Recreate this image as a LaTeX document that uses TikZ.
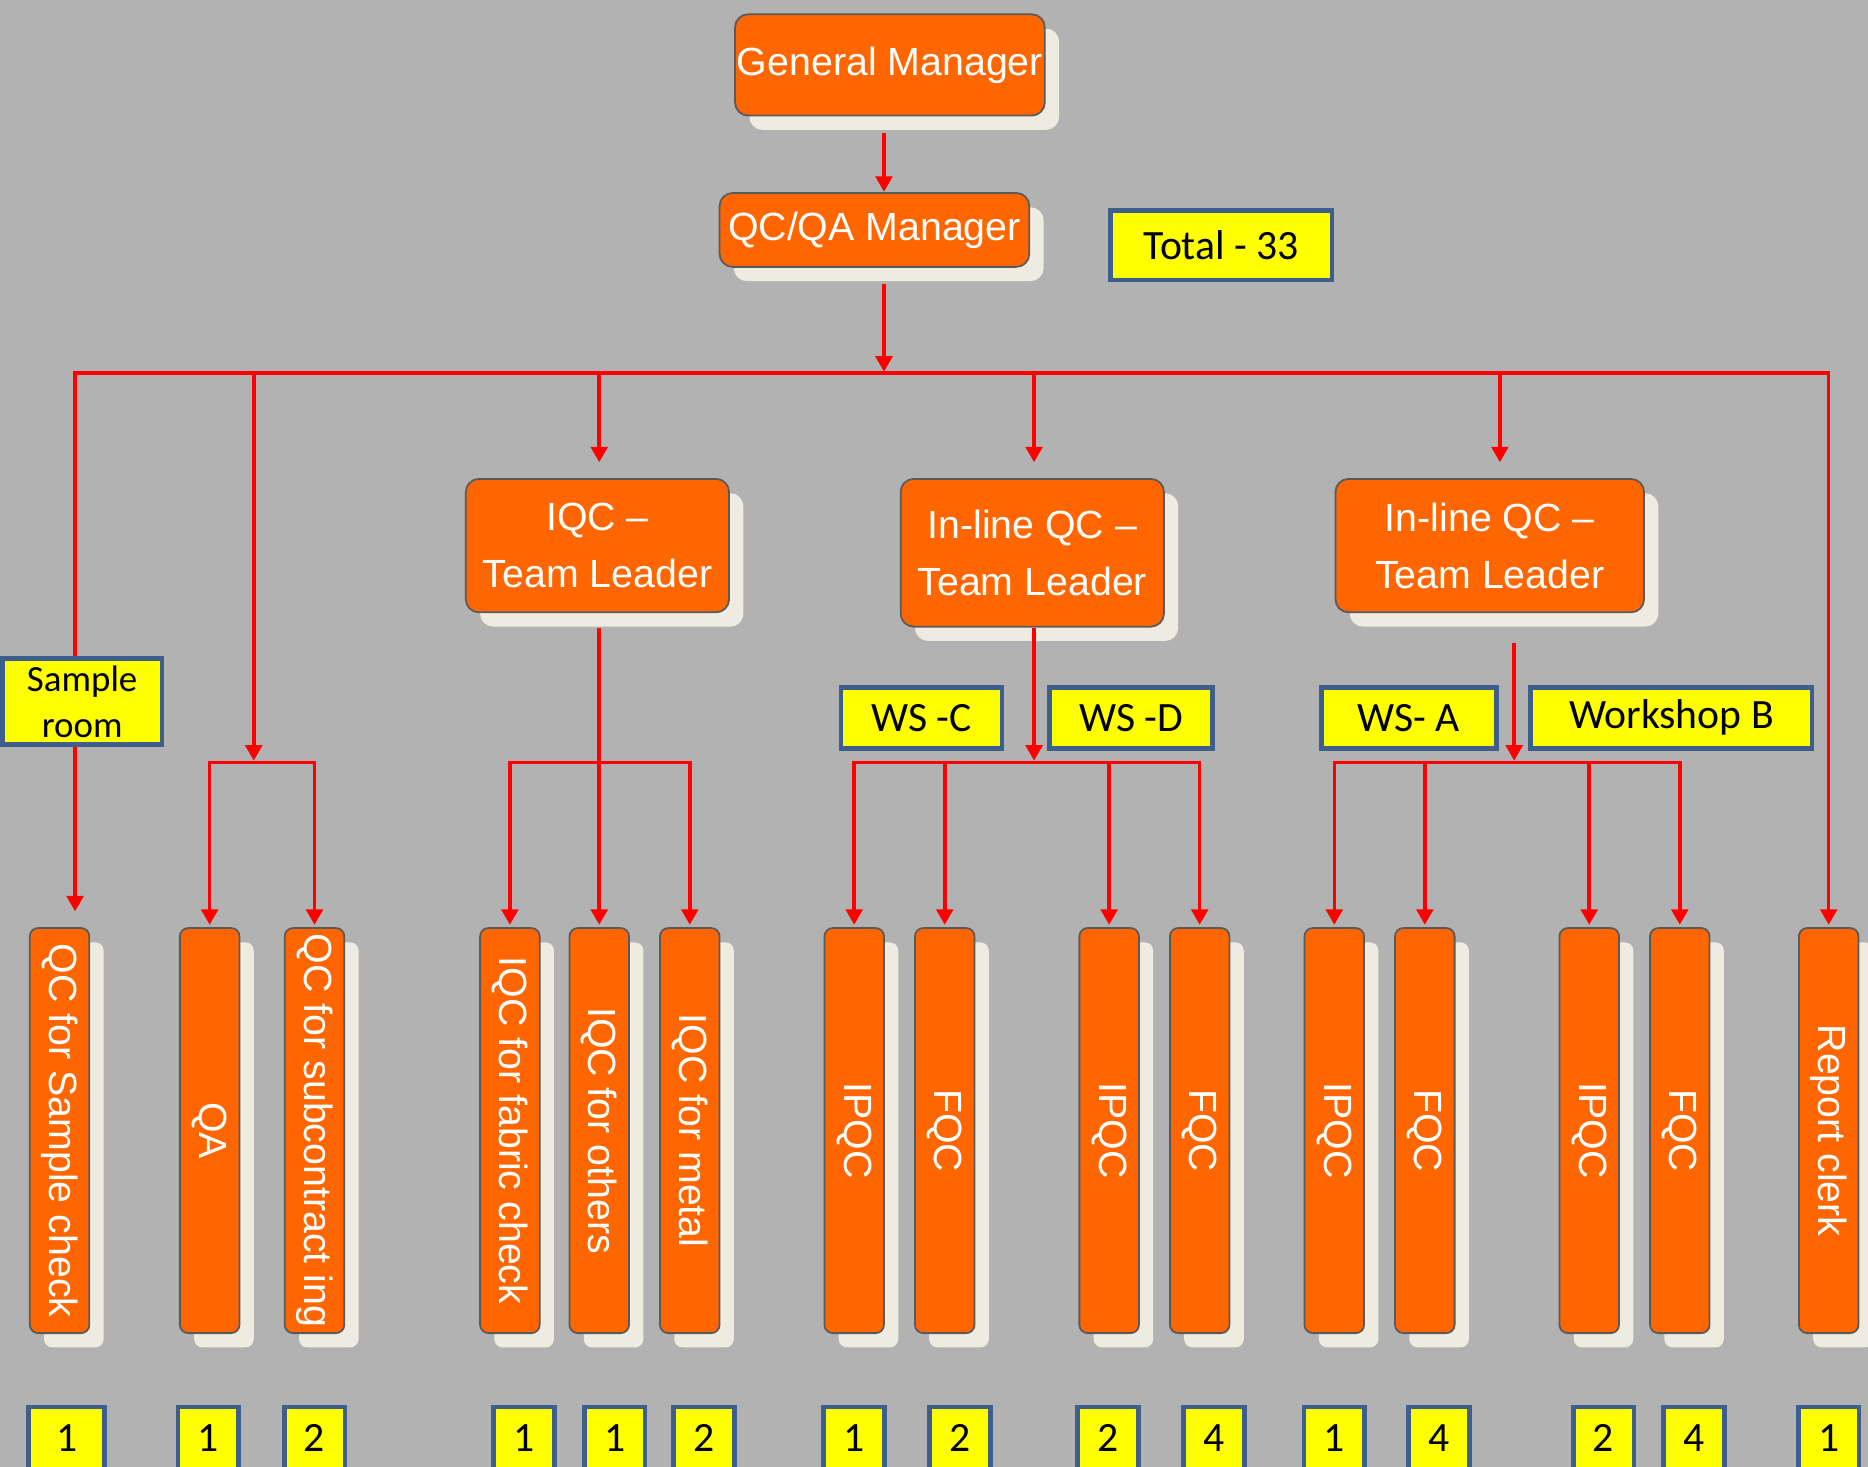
\documentclass[tikz,border=0pt]{standalone}
\usepackage{fontspec}
\setmainfont{Liberation Sans}
\newfontfamily\calfont{Carlito}
\usetikzlibrary{arrows.meta,shadows}
\definecolor{bgc}{HTML}{B2B2B2}
\definecolor{org}{HTML}{FF6600}
\definecolor{cream}{HTML}{EEECE1}
\definecolor{bord}{HTML}{5A5A5A}
\definecolor{ylw}{HTML}{FFFF00}
\definecolor{blu}{HTML}{3E5F8E}
\definecolor{rd}{HTML}{FF0000}
\begin{document}
\begin{tikzpicture}[x=1pt,y=-1pt,
  shad/.style={drop shadow={shadow xshift=12pt,shadow yshift=-12pt,fill=cream,opacity=1}},
  obox/.style={draw=bord,line width=1.5pt,fill=org,rounded corners=11pt,text=white,
    font=\fontsize{33}{48}\selectfont,inner sep=0pt,align=center,shad},
  tbox/.style={draw=bord,line width=1.5pt,fill=org,rounded corners=7pt,inner sep=0pt,
    minimum width=50pt,minimum height=340pt,shad},
  vtext/.style={text=white,font=\fontsize{33}{40}\selectfont,inner sep=0pt,rotate=-90},
  ybox/.style={draw=blu,line width=4pt,fill=ylw,inner sep=0pt,align=center,
    font=\calfont\fontsize{35}{40}\selectfont},
  nbox/.style={ybox,minimum width=51pt,minimum height=52pt},
  ln/.style={draw=rd,line width=3pt},
  arr/.style={ln,-{Triangle[width=14pt,length=13pt]}},
  both/.style={ln,{Triangle[width=14pt,length=13pt]}-{Triangle[width=14pt,length=13pt]}}
]
\fill[bgc] (0,0) rectangle (1568,1231);
\useasboundingbox (0,0) rectangle (1568,1231);

% top boxes
\node[obox,minimum width=260pt,minimum height=85pt] (gm) at (747,54.5) {General Manager};
\node[obox,minimum width=260pt,minimum height=62pt] (qc) at (734,193) {QC/QA Manager};
\node[ybox,minimum width=186pt,minimum height=58pt] (tot) at (1025,206) {Total - 33};

% team leaders
\node[obox,minimum width=221pt,minimum height=112pt] (tl1) at (501.5,458) {IQC --\\Team Leader};
\node[obox,minimum width=221pt,minimum height=124pt] (tl2) at (866.5,464) {In-line QC --\\Team Leader};
\node[obox,minimum width=259pt,minimum height=112pt] (tl3) at (1250.5,458) {In-line QC --\\Team Leader};

% workshop labels
\node[ybox,minimum width=135pt,minimum height=51pt] (wsc) at (773.5,602.5) {WS -C};
\node[ybox,minimum width=137pt,minimum height=51pt] (wsd) at (949.5,602.5) {WS -D};
\node[ybox,minimum width=147pt,minimum height=51pt] (wsa) at (1182.5,602.5) {WS- A};
\node[ybox,minimum width=236pt,minimum height=51pt] (wsb) at (1403,602.5) {Workshop B};

% tall boxes
\foreach \n/\x/\t in {1/50/QC for Sample check,2/176/QA,3/264/QC for subcontract ing,
  4/428/IQC for fabric check,5/503/IQC for others,6/579/IQC for metal,
  7/717/IPQC,8/793/FQC,9/931/IPQC,10/1007/FQC,
  11/1120/IPQC,12/1196/FQC,13/1334/IPQC,14/1410/FQC,15/1535/Report clerk}{
  \node[tbox] (b\n) at (\x,949) {};
  \node[vtext] (t\n) at (b\n) {\t};
}

% number boxes
\node[nbox,minimum width=64pt] (n1) at (56,1207) {1};
\foreach \n/\x/\v in {2/175/1,3/264/2,4/440/1,5/516/1,6/591/2,7/717/1,8/806/2,
  9/930/2,10/1019/4,11/1120/1,12/1208/4,13/1346/2,14/1422/4,15/1535/1}{
  \node[nbox] (n\n) at (\x,1207) {\v};
}

% connector coordinates
\coordinate (gmout) at (742,112);
\coordinate (qcin) at (742,161);
\coordinate (qcout) at (742,238);
\coordinate (busC) at (742,312);
\coordinate (busL) at (63,313);
\coordinate (busR) at (1535,313);
\coordinate (sTip) at (63,765);
\coordinate (qaTop) at (213,313);
\coordinate (jQA) at (213,640);
\coordinate (t1Top) at (503,313);
\coordinate (t1In) at (503,388);
\coordinate (t2Top) at (868,313);
\coordinate (t2In) at (868,388);
\coordinate (t3Top) at (1259,313);
\coordinate (t3In) at (1259,388);
\coordinate (t1Out) at (503,527);
\coordinate (jI) at (503,640);
\coordinate (t2Out) at (868,527);
\coordinate (jM) at (868,640);
\coordinate (t3Out) at (1271,540);
\coordinate (jR) at (1271,640);

% connectors
\draw[arr] (gmout) -- (qcin);
\draw[arr] (qcout) -- (busC);
\draw[both,line join=miter,shorten >=2pt] (sTip) -- (busL) -- (busR) -- (b15.north);
\draw[arr,shorten >=1.5pt] (qaTop) -- (jQA);
\draw[arr] (t1Top) -- (t1In);
\draw[arr] (t2Top) -- (t2In);
\draw[arr] (t3Top) -- (t3In);
\draw[both,line join=miter,shorten <=2pt,shorten >=2pt] (b2.north) |- (jQA) -| (b3.north);
\draw[both,line join=miter,shorten <=2pt,shorten >=2pt] (b4.north) |- (jI) -| (b6.north);
\draw[arr,shorten >=2pt] (t1Out) -- (b5.north);
\draw[both,line join=miter,shorten <=2pt,shorten >=2pt] (b7.north) |- (jM) -| (b10.north);
\draw[arr,shorten >=2pt] (b8.north |- jM) -- (b8.north);
\draw[arr,shorten >=2pt] (b9.north |- jM) -- (b9.north);
\draw[arr,shorten >=1.5pt] (t2Out) -- (jM);
\draw[both,line join=miter,shorten <=2pt,shorten >=2pt] (b11.north) |- (jR) -| (b14.north);
\draw[arr,shorten >=2pt] (b12.north |- jR) -- (b12.north);
\draw[arr,shorten >=2pt] (b13.north |- jR) -- (b13.north);
\draw[arr,shorten >=1.5pt] (t3Out) -- (jR);

% sample room label (on top of its connector)
\node[ybox,minimum width=134pt,minimum height=72pt,font=\calfont\fontsize{31}{38}\selectfont] (sr) at (69,589) {Sample\\room};
\end{tikzpicture}
\end{document}
